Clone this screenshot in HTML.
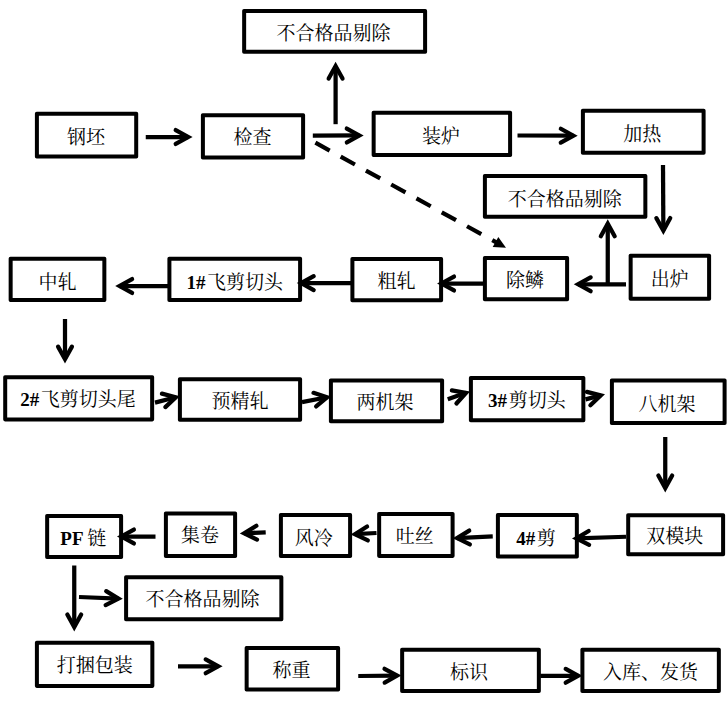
<!DOCTYPE html>
<html lang="zh-CN">
<head>
<meta charset="utf-8">
<title>轧钢工艺流程图</title>
<style>
html,body{margin:0;padding:0;background:#fff}
body{position:relative;width:728px;height:704px;overflow:hidden;font-family:"Liberation Serif",serif}
svg{position:absolute;left:0;top:0;display:block}
.b{fill:#000;fill-rule:evenodd}
.s{fill:none;stroke:#000;stroke-linecap:butt}
.h{fill:none;stroke:#000;stroke-linecap:round;stroke-linejoin:miter;stroke-miterlimit:10}
.t{fill:#000;font-family:"Liberation Serif","Noto Serif CJK SC",serif;font-size:19px}
.l{font-weight:bold}
.n{position:absolute;box-sizing:border-box;text-align:center;font-size:19px;color:transparent;white-space:nowrap;overflow:hidden;font-family:"Liberation Serif",serif}
</style>
</head>
<body>
<div class="n" style="left:242.75px;top:9.5px;width:183.75px;height:43.75px;line-height:43.75px">不合格品剔除</div><div class="n" style="left:35.5px;top:112.25px;width:102.1px;height:45.75px;line-height:45.75px">钢坯</div><div class="n" style="left:201.5px;top:113.75px;width:103px;height:45.25px;line-height:45.25px">检查</div><div class="n" style="left:372.25px;top:111.25px;width:139.25px;height:45.25px;line-height:45.25px">装炉</div><div class="n" style="left:581.5px;top:109.25px;width:123.5px;height:45px;line-height:45px">加热</div><div class="n" style="left:483.5px;top:174.65px;width:163.25px;height:43.45px;line-height:43.45px">不合格品剔除</div><div class="n" style="left:629.25px;top:254.25px;width:81.25px;height:46px;line-height:46px">出炉</div><div class="n" style="left:483.5px;top:256.5px;width:85px;height:44.25px;line-height:44.25px">除鳞</div><div class="n" style="left:351px;top:257.65px;width:91.5px;height:43.95px;line-height:43.95px">粗轧</div><div class="n" style="left:168px;top:257.25px;width:133.5px;height:44.25px;line-height:44.25px">1#飞剪切头</div><div class="n" style="left:9.25px;top:257.25px;width:96.5px;height:44.25px;line-height:44.25px">中轧</div><div class="n" style="left:3.8px;top:375.75px;width:149.75px;height:45.05px;line-height:45.05px">2#飞剪切头尾</div><div class="n" style="left:178.5px;top:377.75px;width:123px;height:43.5px;line-height:43.5px">预精轧</div><div class="n" style="left:329.5px;top:379px;width:114px;height:43.65px;line-height:43.65px">两机架</div><div class="n" style="left:469.5px;top:376.5px;width:115.25px;height:45.2px;line-height:45.2px">3#剪切头</div><div class="n" style="left:610.5px;top:379px;width:115.5px;height:45.5px;line-height:45.5px">八机架</div><div class="n" style="left:626.8px;top:513.75px;width:97.7px;height:41.85px;line-height:41.85px">双模块</div><div class="n" style="left:496.5px;top:513.7px;width:81.75px;height:44.3px;line-height:44.3px">4#剪</div><div class="n" style="left:377.75px;top:512.6px;width:76.25px;height:44.7px;line-height:44.7px">吐丝</div><div class="n" style="left:279.5px;top:513.6px;width:72px;height:43.9px;line-height:43.9px">风冷</div><div class="n" style="left:164.5px;top:512px;width:72px;height:45.5px;line-height:45.5px">集卷</div><div class="n" style="left:45.75px;top:514.5px;width:76.75px;height:43.9px;line-height:43.9px">PF 链</div><div class="n" style="left:124.7px;top:575.9px;width:158.05px;height:44.8px;line-height:44.8px">不合格品剔除</div><div class="n" style="left:35.5px;top:641.25px;width:118.25px;height:46.05px;line-height:46.05px">打捆包装</div><div class="n" style="left:245.25px;top:646.65px;width:94.25px;height:44.25px;line-height:44.25px">称重</div><div class="n" style="left:400.75px;top:648.4px;width:139.5px;height:44.1px;line-height:44.1px">标识</div><div class="n" style="left:581px;top:648.4px;width:139.25px;height:44.1px;line-height:44.1px">入库、发货</div>
<svg width="728" height="704" viewBox="0 0 728 704">
<path class="b" d="M243.95 8.9H425.3A1.8 1.8 0 0 1 427.1 10.7V52.05A1.8 1.8 0 0 1 425.3 53.85H243.95A1.8 1.8 0 0 1 242.15 52.05V10.7A1.8 1.8 0 0 1 243.95 8.9ZM246.15 12.9V49.85H423.1V12.9Z"/><path class="b" d="M36.7 111.65H136.4A1.8 1.8 0 0 1 138.2 113.45V156.8A1.8 1.8 0 0 1 136.4 158.6H36.7A1.8 1.8 0 0 1 34.9 156.8V113.45A1.8 1.8 0 0 1 36.7 111.65ZM38.9 115.65V154.6H134.2V115.65Z"/><path class="b" d="M202.7 113.15H303.3A1.8 1.8 0 0 1 305.1 114.95V157.8A1.8 1.8 0 0 1 303.3 159.6H202.7A1.8 1.8 0 0 1 200.9 157.8V114.95A1.8 1.8 0 0 1 202.7 113.15ZM204.9 117.15V155.6H301.1V117.15Z"/><path class="b" d="M373.45 110.65H510.3A1.8 1.8 0 0 1 512.1 112.45V155.3A1.8 1.8 0 0 1 510.3 157.1H373.45A1.8 1.8 0 0 1 371.65 155.3V112.45A1.8 1.8 0 0 1 373.45 110.65ZM375.65 114.65V153.1H508.1V114.65Z"/><path class="b" d="M582.7 108.65H703.8A1.8 1.8 0 0 1 705.6 110.45V153.05A1.8 1.8 0 0 1 703.8 154.85H582.7A1.8 1.8 0 0 1 580.9 153.05V110.45A1.8 1.8 0 0 1 582.7 108.65ZM584.9 112.65V150.85H701.6V112.65Z"/><path class="b" d="M484.7 174.05H645.55A1.8 1.8 0 0 1 647.35 175.85V216.9A1.8 1.8 0 0 1 645.55 218.7H484.7A1.8 1.8 0 0 1 482.9 216.9V175.85A1.8 1.8 0 0 1 484.7 174.05ZM486.9 178.05V214.7H643.35V178.05Z"/><path class="b" d="M630.45 253.65H709.3A1.8 1.8 0 0 1 711.1 255.45V299.05A1.8 1.8 0 0 1 709.3 300.85H630.45A1.8 1.8 0 0 1 628.65 299.05V255.45A1.8 1.8 0 0 1 630.45 253.65ZM632.65 257.65V296.85H707.1V257.65Z"/><path class="b" d="M484.7 255.9H567.3A1.8 1.8 0 0 1 569.1 257.7V299.55A1.8 1.8 0 0 1 567.3 301.35H484.7A1.8 1.8 0 0 1 482.9 299.55V257.7A1.8 1.8 0 0 1 484.7 255.9ZM486.9 259.9V297.35H565.1V259.9Z"/><path class="b" d="M352.2 257.05H441.3A1.8 1.8 0 0 1 443.1 258.85V300.4A1.8 1.8 0 0 1 441.3 302.2H352.2A1.8 1.8 0 0 1 350.4 300.4V258.85A1.8 1.8 0 0 1 352.2 257.05ZM354.4 261.05V298.2H439.1V261.05Z"/><path class="b" d="M169.2 256.65H300.3A1.8 1.8 0 0 1 302.1 258.45V300.3A1.8 1.8 0 0 1 300.3 302.1H169.2A1.8 1.8 0 0 1 167.4 300.3V258.45A1.8 1.8 0 0 1 169.2 256.65ZM171.4 260.65V298.1H298.1V260.65Z"/><path class="b" d="M10.45 256.65H104.55A1.8 1.8 0 0 1 106.35 258.45V300.3A1.8 1.8 0 0 1 104.55 302.1H10.45A1.8 1.8 0 0 1 8.65 300.3V258.45A1.8 1.8 0 0 1 10.45 256.65ZM12.65 260.65V298.1H102.35V260.65Z"/><path class="b" d="M5 375.15H152.35A1.8 1.8 0 0 1 154.15 376.95V419.6A1.8 1.8 0 0 1 152.35 421.4H5A1.8 1.8 0 0 1 3.2 419.6V376.95A1.8 1.8 0 0 1 5 375.15ZM7.2 379.15V417.4H150.15V379.15Z"/><path class="b" d="M179.7 377.15H300.3A1.8 1.8 0 0 1 302.1 378.95V420.05A1.8 1.8 0 0 1 300.3 421.85H179.7A1.8 1.8 0 0 1 177.9 420.05V378.95A1.8 1.8 0 0 1 179.7 377.15ZM181.9 381.15V417.85H298.1V381.15Z"/><path class="b" d="M330.7 378.4H442.3A1.8 1.8 0 0 1 444.1 380.2V421.45A1.8 1.8 0 0 1 442.3 423.25H330.7A1.8 1.8 0 0 1 328.9 421.45V380.2A1.8 1.8 0 0 1 330.7 378.4ZM332.9 382.4V419.25H440.1V382.4Z"/><path class="b" d="M470.7 375.9H583.55A1.8 1.8 0 0 1 585.35 377.7V420.5A1.8 1.8 0 0 1 583.55 422.3H470.7A1.8 1.8 0 0 1 468.9 420.5V377.7A1.8 1.8 0 0 1 470.7 375.9ZM472.9 379.9V418.3H581.35V379.9Z"/><path class="b" d="M611.7 378.4H724.8A1.8 1.8 0 0 1 726.6 380.2V423.3A1.8 1.8 0 0 1 724.8 425.1H611.7A1.8 1.8 0 0 1 609.9 423.3V380.2A1.8 1.8 0 0 1 611.7 378.4ZM613.9 382.4V421.1H722.6V382.4Z"/><path class="b" d="M628 513.15H723.3A1.8 1.8 0 0 1 725.1 514.95V554.4A1.8 1.8 0 0 1 723.3 556.2H628A1.8 1.8 0 0 1 626.2 554.4V514.95A1.8 1.8 0 0 1 628 513.15ZM630.2 517.15V552.2H721.1V517.15Z"/><path class="b" d="M497.7 513.1H577.05A1.8 1.8 0 0 1 578.85 514.9V556.8A1.8 1.8 0 0 1 577.05 558.6H497.7A1.8 1.8 0 0 1 495.9 556.8V514.9A1.8 1.8 0 0 1 497.7 513.1ZM499.9 517.1V554.6H574.85V517.1Z"/><path class="b" d="M378.95 512H452.8A1.8 1.8 0 0 1 454.6 513.8V556.1A1.8 1.8 0 0 1 452.8 557.9H378.95A1.8 1.8 0 0 1 377.15 556.1V513.8A1.8 1.8 0 0 1 378.95 512ZM381.15 516V553.9H450.6V516Z"/><path class="b" d="M280.7 513H350.3A1.8 1.8 0 0 1 352.1 514.8V556.3A1.8 1.8 0 0 1 350.3 558.1H280.7A1.8 1.8 0 0 1 278.9 556.3V514.8A1.8 1.8 0 0 1 280.7 513ZM282.9 517V554.1H348.1V517Z"/><path class="b" d="M165.7 511.4H235.3A1.8 1.8 0 0 1 237.1 513.2V556.3A1.8 1.8 0 0 1 235.3 558.1H165.7A1.8 1.8 0 0 1 163.9 556.3V513.2A1.8 1.8 0 0 1 165.7 511.4ZM167.9 515.4V554.1H233.1V515.4Z"/><path class="b" d="M46.95 513.9H121.3A1.8 1.8 0 0 1 123.1 515.7V557.2A1.8 1.8 0 0 1 121.3 559H46.95A1.8 1.8 0 0 1 45.15 557.2V515.7A1.8 1.8 0 0 1 46.95 513.9ZM49.15 517.9V555H119.1V517.9Z"/><path class="b" d="M125.9 575.3H281.55A1.8 1.8 0 0 1 283.35 577.1V619.5A1.8 1.8 0 0 1 281.55 621.3H125.9A1.8 1.8 0 0 1 124.1 619.5V577.1A1.8 1.8 0 0 1 125.9 575.3ZM128.1 579.3V617.3H279.35V579.3Z"/><path class="b" d="M36.7 640.65H152.55A1.8 1.8 0 0 1 154.35 642.45V686.1A1.8 1.8 0 0 1 152.55 687.9H36.7A1.8 1.8 0 0 1 34.9 686.1V642.45A1.8 1.8 0 0 1 36.7 640.65ZM38.9 644.65V683.9H150.35V644.65Z"/><path class="b" d="M246.45 646.05H338.3A1.8 1.8 0 0 1 340.1 647.85V689.7A1.8 1.8 0 0 1 338.3 691.5H246.45A1.8 1.8 0 0 1 244.65 689.7V647.85A1.8 1.8 0 0 1 246.45 646.05ZM248.65 650.05V687.5H336.1V650.05Z"/><path class="b" d="M401.95 647.8H539.05A1.8 1.8 0 0 1 540.85 649.6V691.3A1.8 1.8 0 0 1 539.05 693.1H401.95A1.8 1.8 0 0 1 400.15 691.3V649.6A1.8 1.8 0 0 1 401.95 647.8ZM404.15 651.8V689.1H536.85V651.8Z"/><path class="b" d="M582.2 647.8H719.05A1.8 1.8 0 0 1 720.85 649.6V691.3A1.8 1.8 0 0 1 719.05 693.1H582.2A1.8 1.8 0 0 1 580.4 691.3V649.6A1.8 1.8 0 0 1 582.2 647.8ZM584.4 651.8V689.1H716.85V651.8Z"/><path class="s" d="M145.75 137L188.22 137" stroke-width="4.25"/><path class="h" d="M175.71 130.07L188.22 137L175.71 143.93" stroke-width="4.25"/><path class="s" d="M312.8 135.6L359.32 135.42" stroke-width="4.25"/><path class="h" d="M346.78 128.53L359.32 135.42L346.84 142.4" stroke-width="4.25"/><path class="s" d="M335.6 124.2L335.6 66.08" stroke-width="4.25"/><path class="h" d="M328.67 78.59L335.6 66.08L342.53 78.59" stroke-width="4.25"/><path class="s" d="M517.5 135.5L573.32 135.73" stroke-width="4.25"/><path class="h" d="M560.84 128.75L573.32 135.73L560.78 142.61" stroke-width="4.25"/><path class="s" d="M663 165L663.37 230.62" stroke-width="4.25"/><path class="h" d="M670.24 218.07L663.37 230.62L656.37 218.15" stroke-width="4.25"/><path class="s" d="M626 284.3L578.13 284.3" stroke-width="4.25"/><path class="h" d="M590.64 291.23L578.13 284.3L590.64 277.37" stroke-width="4.25"/><path class="s" d="M607.75 284.25L607.75 223.68" stroke-width="4.25"/><path class="h" d="M600.82 236.19L607.75 223.68L614.68 236.19" stroke-width="4.25"/><path class="s" d="M483.5 283.5L441.48 283.5" stroke-width="4.25"/><path class="h" d="M453.99 290.43L441.48 283.5L453.99 276.57" stroke-width="4.25"/><path class="s" d="M351 283.1L301.18 283.1" stroke-width="4.25"/><path class="h" d="M313.69 290.03L301.18 283.1L313.69 276.17" stroke-width="4.25"/><path class="s" d="M168 286L119.58 286" stroke-width="4.25"/><path class="h" d="M132.09 292.93L119.58 286L132.09 279.07" stroke-width="4.25"/><path class="s" d="M65 319L65 359.12" stroke-width="4.25"/><path class="h" d="M71.93 346.61L65 359.12L58.07 346.61" stroke-width="4.25"/><path class="s" d="M155 402.6L175.75 397.29" stroke-width="4.25"/><path class="h" d="M161.92 393.67L175.75 397.29L165.36 407.11" stroke-width="4.25"/><path class="s" d="M302 402.1L327.1 397.23" stroke-width="4.25"/><path class="h" d="M313.5 392.81L327.1 397.23L316.14 406.42" stroke-width="4.25"/><path class="s" d="M447.75 399.2L465.96 392.84" stroke-width="4.25"/><path class="h" d="M451.87 390.42L465.96 392.84L456.44 403.51" stroke-width="4.25"/><path class="s" d="M585.5 399.4L600.76 395.41" stroke-width="4.25"/><path class="h" d="M586.91 391.87L600.76 395.41L590.41 405.28" stroke-width="4.25"/><path class="s" d="M665.25 437L665.25 488.02" stroke-width="4.25"/><path class="h" d="M672.18 475.51L665.25 488.02L658.32 475.51" stroke-width="4.25"/><path class="s" d="M626 536.75L576.38 538.36" stroke-width="4.25"/><path class="h" d="M589.11 544.88L576.38 538.36L588.66 531.02" stroke-width="4.25"/><path class="s" d="M492.75 536.4L457.08 538.09" stroke-width="4.25"/><path class="h" d="M469.9 544.42L457.08 538.09L469.24 530.57" stroke-width="4.25"/><path class="s" d="M376.5 533L354.98 534.16" stroke-width="4.25"/><path class="h" d="M367.84 540.41L354.98 534.16L367.09 526.57" stroke-width="4.25"/><path class="s" d="M265.7 532.3L244.18 533.3" stroke-width="4.25"/><path class="h" d="M256.99 539.64L244.18 533.3L256.35 525.79" stroke-width="4.25"/><path class="s" d="M155.5 536.5L121.38 536.5" stroke-width="4.25"/><path class="h" d="M133.89 543.43L121.38 536.5L133.89 529.57" stroke-width="4.25"/><path class="s" d="M74.25 565.5L74.25 627.02" stroke-width="4.25"/><path class="h" d="M81.18 614.51L74.25 627.02L67.32 614.51" stroke-width="4.25"/><path class="s" d="M79 597L118.42 598.62" stroke-width="4.25"/><path class="h" d="M106.21 591.18L118.42 598.62L105.64 605.03" stroke-width="4.25"/><path class="s" d="M178 666.3L218.22 666.3" stroke-width="4.25"/><path class="h" d="M205.71 659.37L218.22 666.3L205.71 673.23" stroke-width="4.25"/><path class="s" d="M358.25 676L397.12 675.55" stroke-width="4.25"/><path class="h" d="M384.53 668.76L397.12 675.55L384.69 682.63" stroke-width="4.25"/><path class="s" d="M540.3 675.8L578.22 675.8" stroke-width="4.25"/><path class="h" d="M565.71 668.87L578.22 675.8L565.71 682.73" stroke-width="4.25"/><path d="M315.4 142.7L496.80 242.68" fill="none" stroke="#000" stroke-width="4.2" stroke-dasharray="16.3 12.55"/><path d="M506.0 247.75L492.69 247.04L498.29 236.88Z" fill="#000"/>
<g class="t"><text x="276.6" y="40.22">不合格品剔除</text><text x="67" y="143.72">钢坯</text><text x="233.4" y="144.12">检查</text><text x="422" y="142.62">装炉</text><text x="623.25" y="140.62">加热</text><text x="507.75" y="205.72">不合格品剔除</text><text x="650.75" y="285.97">出炉</text><text x="506" y="287.22">除鳞</text><text x="377.5" y="288.22">粗轧</text><text class="l" x="186.4" y="288.52">1#</text><text x="207.1" y="288.62">飞剪切头</text><text x="38.5" y="288.82">中轧</text><text class="l" x="20.15" y="405.52">2#</text><text x="40.85" y="405.62">飞剪切头尾</text><text x="211.5" y="408.22">预精轧</text><text x="356.5" y="409.47">两机架</text><text class="l" x="487.95" y="407.12">3#</text><text x="508.65" y="407.22">剪切头</text><text x="638.4" y="410.72">八机架</text><text x="646.25" y="543.22">双模块</text><text class="l" x="516.15" y="544.62">4#</text><text x="536.85" y="544.72">剪</text><text x="395.75" y="543.22">吐丝</text><text x="294.75" y="544.72">风冷</text><text x="181" y="542.22">集卷</text><text class="l" x="60.35" y="544.77">PF</text><text x="87.25" y="545.47">链</text><text x="145.6" y="606.47">不合格品剔除</text><text x="56.75" y="672.22">打捆包装</text><text x="272.6" y="677.22">称重</text><text x="450" y="679.22">标识</text><text x="602.9" y="679.22">入库、发货</text></g>
</svg>
</body>
</html>
